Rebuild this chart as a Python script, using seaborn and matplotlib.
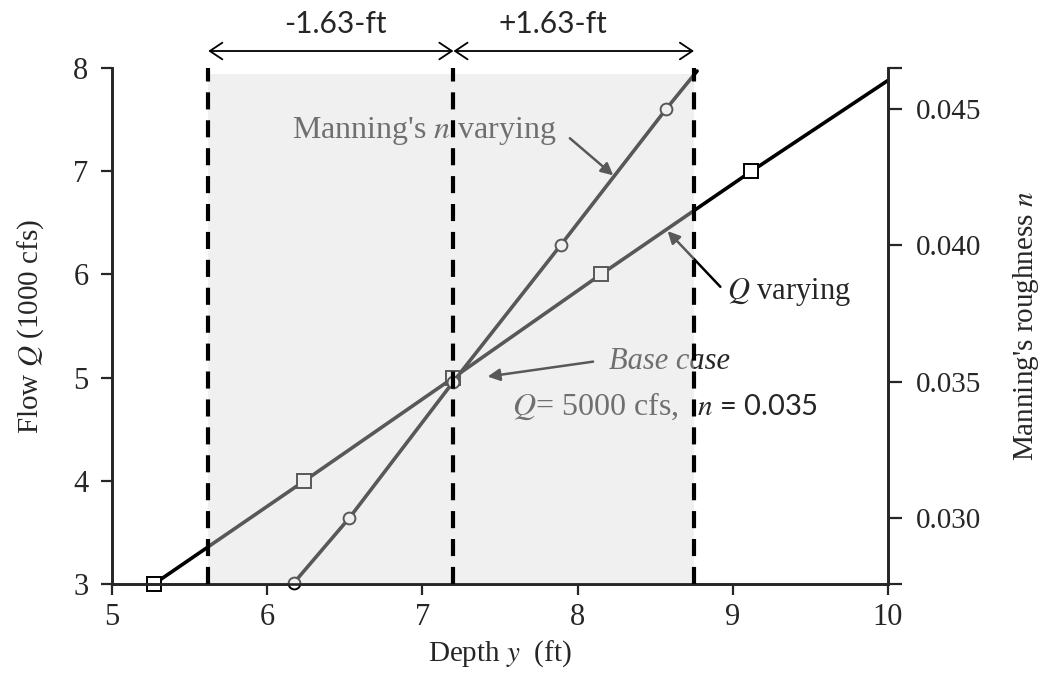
import matplotlib
matplotlib.use("Agg")
import matplotlib.pyplot as plt
import seaborn as sns
from matplotlib.patches import Rectangle

# Q varying (left axis); last pair is where the line meets the right frame
q_depth = [5.27, 6.24, 7.20, 8.15, 9.12, 10.0]
q_flow = [3.0, 4.0, 5.0, 6.0, 7.0, 7.88]
# Manning's n varying (right axis); last pair is the end of the line
n_depth = [6.17, 6.53, 7.20, 7.89, 8.57, 8.77]
n_rough = [0.0276, 0.030, 0.035, 0.040, 0.045, 0.0464]

# dashed lines: base depth and the +/- 1.63 ft band as drawn
band_x = [5.62, 7.20, 8.75]
band_top = 7.94
band_labels = ["-1.63-ft", "+1.63-ft"]

x_ticks = [5, 6, 7, 8, 9, 10]
q_ticks = [3, 4, 5, 6, 7, 8]
n_ticks = [0.030, 0.035, 0.040, 0.045]
n_lim = (0.02757, 0.04651)

sns.set_style("ticks")
plt.rcParams["font.family"] = ["Liberation Serif", "DejaVu Serif"]
plt.rcParams["mathtext.fontset"] = "stix"

fig = plt.figure(figsize=(10.48, 6.9), dpi=100)
ax = fig.add_axes([0.1069, 0.1536, 0.7404, 0.7478])
ax2 = ax.twinx()

sns.lineplot(x=q_depth, y=q_flow, ax=ax, color="black", linewidth=2.6, sort=False,
             marker="s", markevery=list(range(5)), markersize=10,
             markerfacecolor="white", markeredgecolor="black", markeredgewidth=1.4,
             clip_on=False)
sns.lineplot(x=n_depth, y=n_rough, ax=ax2, color="black", linewidth=2.6, sort=False,
             marker="o", markevery=list(range(5)), markersize=8.5,
             markerfacecolor="white", markeredgecolor="black", markeredgewidth=1.4,
             clip_on=False)

ax.set_xlim(5, 10)
ax.set_ylim(3, 8)
ax2.set_ylim(*n_lim)
ax.set_xticks(x_ticks)
ax.set_yticks(q_ticks)
ax2.set_yticks(n_ticks + list(n_lim))
ax2.set_yticklabels([f"{v:.3f}" for v in n_ticks] + ["", ""])

for a in (ax, ax2):
    a.spines["top"].set_visible(False)
    for s in a.spines.values():
        s.set_linewidth(1.9)
ax.tick_params(axis="x", direction="out", length=8, width=1.6, labelsize=22, pad=6)
ax.tick_params(axis="y", direction="out", length=8, width=1.6, labelsize=22, pad=9)
ax2.tick_params(axis="y", direction="out", length=10, width=1.6, labelsize=21, pad=10)

ax.set_xlabel("Depth $y$  (ft)", fontsize=21)
ax.set_ylabel("Flow $Q$ (1000 cfs)", fontsize=21)
ax2.set_ylabel("Manning's roughness $n$", fontsize=21)
ax.yaxis.set_label_coords(-0.085, 0.5)
ax2.yaxis.set_label_coords(1.158, 0.5)

# annotations (on the lower axes so the shaded band greys them)
arrow_kw = dict(arrowstyle="-|>", lw=1.8, color="black", mutation_scale=18,
                shrinkA=0, shrinkB=0)
ax.text(6.16, 7.39, "Manning's $n$ varying", fontsize=23, va="center")
ax.annotate("", xy=(8.23, 6.96), xytext=(7.95, 7.32), arrowprops=arrow_kw)
ax.text(8.96, 5.83, "$Q$ varying", fontsize=22, va="center")
ax.annotate("", xy=(8.58, 6.42), xytext=(8.92, 5.88), arrowprops=arrow_kw)
ax.text(8.20, 5.16, "Base case", fontsize=22, style="italic", va="center")
ax.annotate("", xy=(7.42, 5.01), xytext=(8.10, 5.155), arrowprops=arrow_kw)
ax.text(7.58, 4.72, "$Q$= 5000 cfs,", fontsize=23, va="center")
ax.text(8.77, 4.72, "$n$ = 0.035", fontsize=21, va="center", family=["Lato", "DejaVu Sans"])

# translucent band on top of the lines
ax2.add_patch(Rectangle((band_x[0], 3), band_x[2] - band_x[0], band_top - 3,
                        transform=ax.transData, facecolor="#dcdcdc", alpha=0.405,
                        edgecolor="none", zorder=2.2))
for x in band_x:
    ax2.axvline(x, color="black", linewidth=3, dashes=(4.1, 2.6), zorder=3)

head = dict(arrowstyle="<->,head_length=0.45,head_width=0.3", lw=1.3, color="black",
            mutation_scale=20, shrinkA=0, shrinkB=0)
ax2.annotate("", xy=(band_x[0], 8.165), xytext=(band_x[1], 8.165), xycoords=ax.transData,
             textcoords=ax.transData, arrowprops=head, annotation_clip=False)
ax2.annotate("", xy=(band_x[1], 8.165), xytext=(band_x[2], 8.165), xycoords=ax.transData,
             textcoords=ax.transData, arrowprops=head, annotation_clip=False)
ax.text(6.44, 8.43, band_labels[0], fontsize=21.5, ha="center", va="center",
        family=["Lato", "DejaVu Sans"], clip_on=False)
ax.text(7.84, 8.43, band_labels[1], fontsize=21.5, ha="center", va="center",
        family=["Lato", "DejaVu Sans"], clip_on=False)

fig.savefig("out.png", dpi=100)
